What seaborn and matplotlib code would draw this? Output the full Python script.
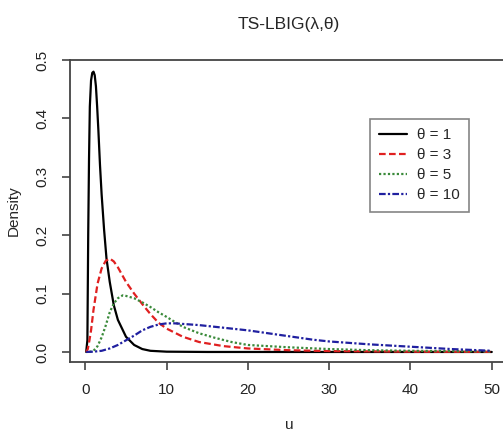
import matplotlib
matplotlib.use("Agg")
import matplotlib.pyplot as plt
import numpy as np
import pandas as pd
import seaborn as sns

# values
u_t1 = [0.1, 0.25, 0.35, 0.45, 0.55, 0.7, 0.85, 1.0, 1.15, 1.3, 1.45, 1.6, 1.8, 2.0, 2.3, 2.6, 3.0, 3.5, 4.0, 5.0, 6.0, 7.0, 8.0, 10.0, 15.0, 50.0]
d_t1 = [0.0, 0.02, 0.2, 0.33, 0.42, 0.465, 0.478, 0.48, 0.474, 0.455, 0.42, 0.38, 0.32, 0.27, 0.21, 0.16, 0.12, 0.08, 0.055, 0.026, 0.012, 0.005, 0.002, 0.0005, 0.0, 0.0]

u_t3 = [0.1, 0.3, 0.5, 0.7, 1.0, 1.5, 2.0, 2.5, 3.0, 3.5, 4.0, 5.0, 6.0, 7.0, 8.0, 9.0, 10.0, 12.0, 14.0, 17.0, 20.0, 25.0, 30.0, 40.0, 50.0]
d_t3 = [0.0, 0.005, 0.02, 0.037, 0.072, 0.117, 0.143, 0.156, 0.16, 0.155, 0.145, 0.12, 0.1, 0.082, 0.065, 0.05, 0.04, 0.026, 0.017, 0.01, 0.006, 0.003, 0.0015, 0.0005, 0.0002]

u_t5 = [0.5, 1.0, 1.5, 2.0, 2.5, 3.0, 3.5, 4.0, 4.6, 5.0, 6.0, 7.0, 8.0, 9.0, 10.0, 12.0, 14.0, 16.0, 18.0, 20.0, 25.0, 30.0, 35.0, 40.0, 50.0]
d_t5 = [0.0, 0.002, 0.01, 0.025, 0.045, 0.068, 0.083, 0.092, 0.097, 0.096, 0.092, 0.085, 0.077, 0.068, 0.06, 0.043, 0.032, 0.024, 0.017, 0.012, 0.008, 0.005, 0.003, 0.002, 0.001]

u_t10 = [0.1, 1.0, 2.0, 3.0, 4.0, 5.0, 6.0, 7.0, 8.0, 9.0, 10.0, 11.0, 12.0, 14.0, 16.0, 18.0, 20.0, 22.0, 25.0, 28.0, 30.0, 35.0, 40.0, 45.0, 50.0]
d_t10 = [0.0, 0.0005, 0.002, 0.006, 0.012, 0.02, 0.028, 0.037, 0.043, 0.047, 0.049, 0.049, 0.048, 0.046, 0.043, 0.04, 0.037, 0.033, 0.027, 0.021, 0.018, 0.013, 0.009, 0.005, 0.002]

labels = ["θ = 1", "θ = 3", "θ = 5", "θ = 10"]
colors = ["black", "#e02020", "#3a8a3a", "#2020a0"]

frames = []
for lab, uu, dd in zip(labels, [u_t1, u_t3, u_t5, u_t10], [d_t1, d_t3, d_t5, d_t10]):
    frames.append(pd.DataFrame({"u": uu, "Density": dd, "theta": lab}))
df = pd.concat(frames, ignore_index=True)

sns.set_style("white")
plt.rcParams["font.family"] = ["Liberation Sans", "DejaVu Sans"]

fig = plt.figure(figsize=(5.03, 4.37), dpi=100)
ax = fig.add_axes([0.139, 0.1716, 0.871, 0.6911])

sns.lineplot(data=df, x="u", y="Density", hue="theta", style="theta",
             hue_order=labels, style_order=labels,
             palette=dict(zip(labels, colors)),
             dashes={"θ = 1": "", "θ = 3": (3, 1.5), "θ = 5": (1, 1), "θ = 10": (3, 1, 1, 1)},
             linewidth=1.6, ax=ax, sort=False)

ax.set_xlim(-1.9, 52)
ax.set_ylim(-0.0172, 0.5)
ax.set_xticks([0, 10, 20, 30, 40, 50])
ax.set_yticks([0.0, 0.1, 0.2, 0.3, 0.4, 0.5])
ax.set_yticklabels(["0.0", "0.1", "0.2", "0.3", "0.4", "0.5"], rotation=90, va="center")
ax.tick_params(axis="both", direction="out", length=6, width=1.2, color="#444444",
               labelsize=11, pad=9, bottom=True, left=True, labelcolor="#222222")
for sp in ax.spines.values():
    sp.set_color("#444444")
    sp.set_linewidth(1.3)
ax.set_xlabel("u", fontsize=11, labelpad=15)
ax.set_ylabel("Density", fontsize=11, labelpad=10)
ax.set_title("TS-LBIG(λ,θ)", fontsize=12.5, pad=22)

# legend box like R's legend()
leg = ax.legend(loc="upper left", bbox_to_anchor=(0.685, 0.805), fontsize=11,
                frameon=True, fancybox=False, handlelength=1.8, borderpad=0.6,
                labelspacing=0.4, handletextpad=0.7, borderaxespad=0)
leg.get_frame().set_edgecolor("#666666")
leg.get_frame().set_linewidth(1.2)

fig.savefig("out.png", dpi=100)
